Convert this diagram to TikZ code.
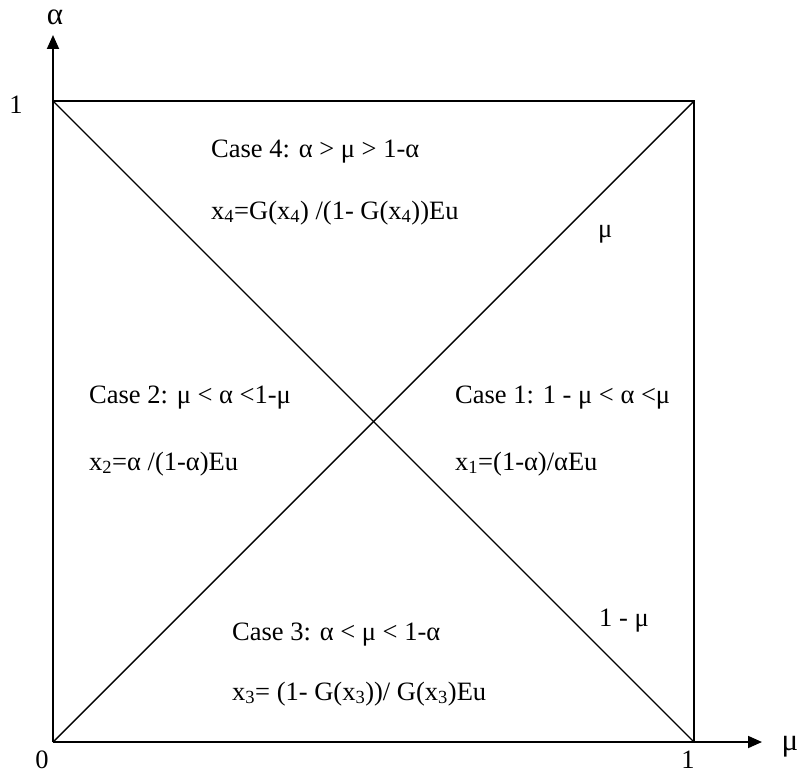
\documentclass[tikz,border=0pt]{standalone}
\usepackage{fontspec}
\setmainfont{Liberation Serif}
\usetikzlibrary{arrows.meta}
\tikzset{
  lbl/.style={inner sep=0pt, font=\fontsize{26.5}{30}\selectfont},
  greek/.style={inner sep=0pt, font=\fontsize{31}{34}\selectfont},
  txt/.style={lbl, anchor=base west},
  frame/.style={line width=1.8pt},
  diag/.style={line width=1.4pt},
  axis/.style={line width=1.8pt, -{Triangle[length=14pt,width=12pt]}}
}
\begin{document}
\begin{tikzpicture}[x=1pt,y=-1pt]
\useasboundingbox (0,0) rectangle (800,776);
\coordinate (O) at (53,742);
\coordinate (A) at (694,742);
\coordinate (B) at (694,101);
\coordinate (C) at (53,101);
\coordinate (ytip) at (53,35);
\coordinate (xtip) at (762,742);
\draw[axis] (O) -- (ytip);
\draw[axis] (O) -- (xtip);
\draw[frame] (C) -- (B) -- (A);
\draw[diag] (O) -- (B);
\draw[diag] (C) -- (A);
\node[greek] (alab) at (55,17) {α};
\node[greek] (mlab) at (790,747) {μ};
\node[lbl] (one1) at (16,105) {1};
\node[lbl] (zero) at (42,760) {0};
\node[lbl] (one2) at (688,760) {1};
\node[txt] (mu) at (598,237) {μ};
\node[txt] (omu) at (599,626) {1 - μ};
\node[txt] (c4) at (211,157) {Case 4: α > μ > 1-α};
\node[txt] (x4) at (211,219) {x\textsubscript{4}=G(x\textsubscript{4}) /(1- G(x\textsubscript{4}))Eu};
\node[txt] (c2) at (89,403) {Case 2: μ < α <1-μ};
\node[txt] (x2) at (89,470) {x\textsubscript{2}=α /(1-α)Eu};
\node[txt] (c1) at (455,403) {Case 1: 1 - μ < α <μ};
\node[txt] (x1) at (455,470) {x\textsubscript{1}=(1-α)/αEu};
\node[txt] (c3) at (232,640) {Case 3: α < μ < 1-α};
\node[txt] (x3) at (232,700) {x\textsubscript{3}= (1- G(x\textsubscript{3}))/ G(x\textsubscript{3})Eu};
\end{tikzpicture}
\end{document}
